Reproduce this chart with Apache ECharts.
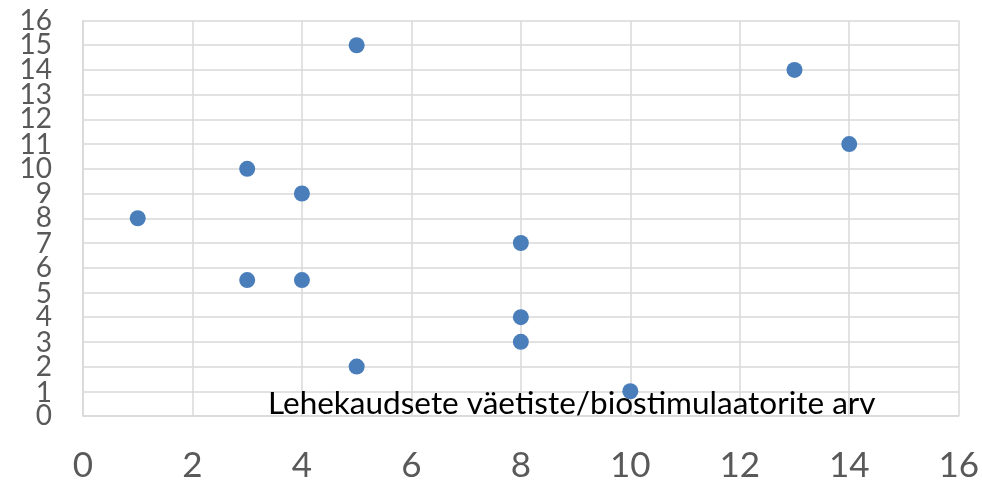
<!DOCTYPE html>
<html>
<head>
<meta charset="utf-8">
<script src="https://cdn.jsdelivr.net/npm/echarts@6/dist/echarts.min.js"></script>
<style>html,body{margin:0;padding:0;background:#fff}#c{width:982px;height:483px}</style>
</head>
<body>
<div id="c"></div>
<script>
var xValues = [1, 3, 3, 4, 4, 5, 5, 8, 8, 8, 10, 13, 14];
var yValues = [8, 10, 5.5, 9, 5.5, 15, 2, 7, 4, 3, 1, 14, 11];
var axisTitle = 'Lehekaudsete väetiste/biostimulaatorite arv';

var points = xValues.map(function (x, i) { return [x, yValues[i]]; });
var gridBox = { left: 83, right: 23, top: 20.5, bottom: 65.3 };
var yLabelStyle = { fontFamily: 'Lato', fontSize: 28, color: '#595959', margin: 31 };

var chart = echarts.init(document.getElementById('c'));
chart.setOption({
  animation: false,
  grid: [Object.assign({}, gridBox), Object.assign({}, gridBox)],
  title: {
    text: axisTitle,
    left: 268, top: 388, padding: 0,
    textStyle: { fontFamily: 'Lato', fontSize: 31.5, fontWeight: 'normal', color: '#000' }
  },
  xAxis: [{
    gridIndex: 0, type: 'value', min: 0, max: 16, interval: 2,
    axisLine: { show: true, lineStyle: { color: '#d9d9d9', width: 1.5 } },
    axisTick: { show: false },
    splitLine: { lineStyle: { color: '#d9d9d9', width: 1.5 } },
    axisLabel: { fontFamily: 'Lato', fontSize: 35, color: '#595959', margin: 32,
                 showMinLabel: true, showMaxLabel: true }
  }, {
    gridIndex: 1, type: 'value', min: 0, max: 16, interval: 2, show: false
  }],
  yAxis: [{
    gridIndex: 0, type: 'value', min: 0, max: 16, interval: 1,
    axisLine: { show: true, lineStyle: { color: '#d9d9d9', width: 1.5 } },
    axisTick: { show: false },
    splitLine: { lineStyle: { color: '#d9d9d9', width: 1.5 } },
    axisLabel: Object.assign({}, yLabelStyle, {
      showMinLabel: true, showMaxLabel: true,
      formatter: function (v) { return v % 2 === 0 ? String(v) : ''; }
    })
  }, {
    gridIndex: 1, type: 'value', min: 0, max: 16, interval: 1,
    axisLine: { show: false }, axisTick: { show: false }, splitLine: { show: false },
    axisLabel: Object.assign({}, yLabelStyle, {
      showMinLabel: false, showMaxLabel: false,
      formatter: function (v) { return v % 2 === 1 ? String(v) : ''; }
    })
  }],
  series: [{
    type: 'scatter', xAxisIndex: 0, yAxisIndex: 0, z: 10, data: points, symbolSize: 16,
    itemStyle: { color: '#4a7ebb', opacity: 1 }
  }]
});
</script>
</body>
</html>
